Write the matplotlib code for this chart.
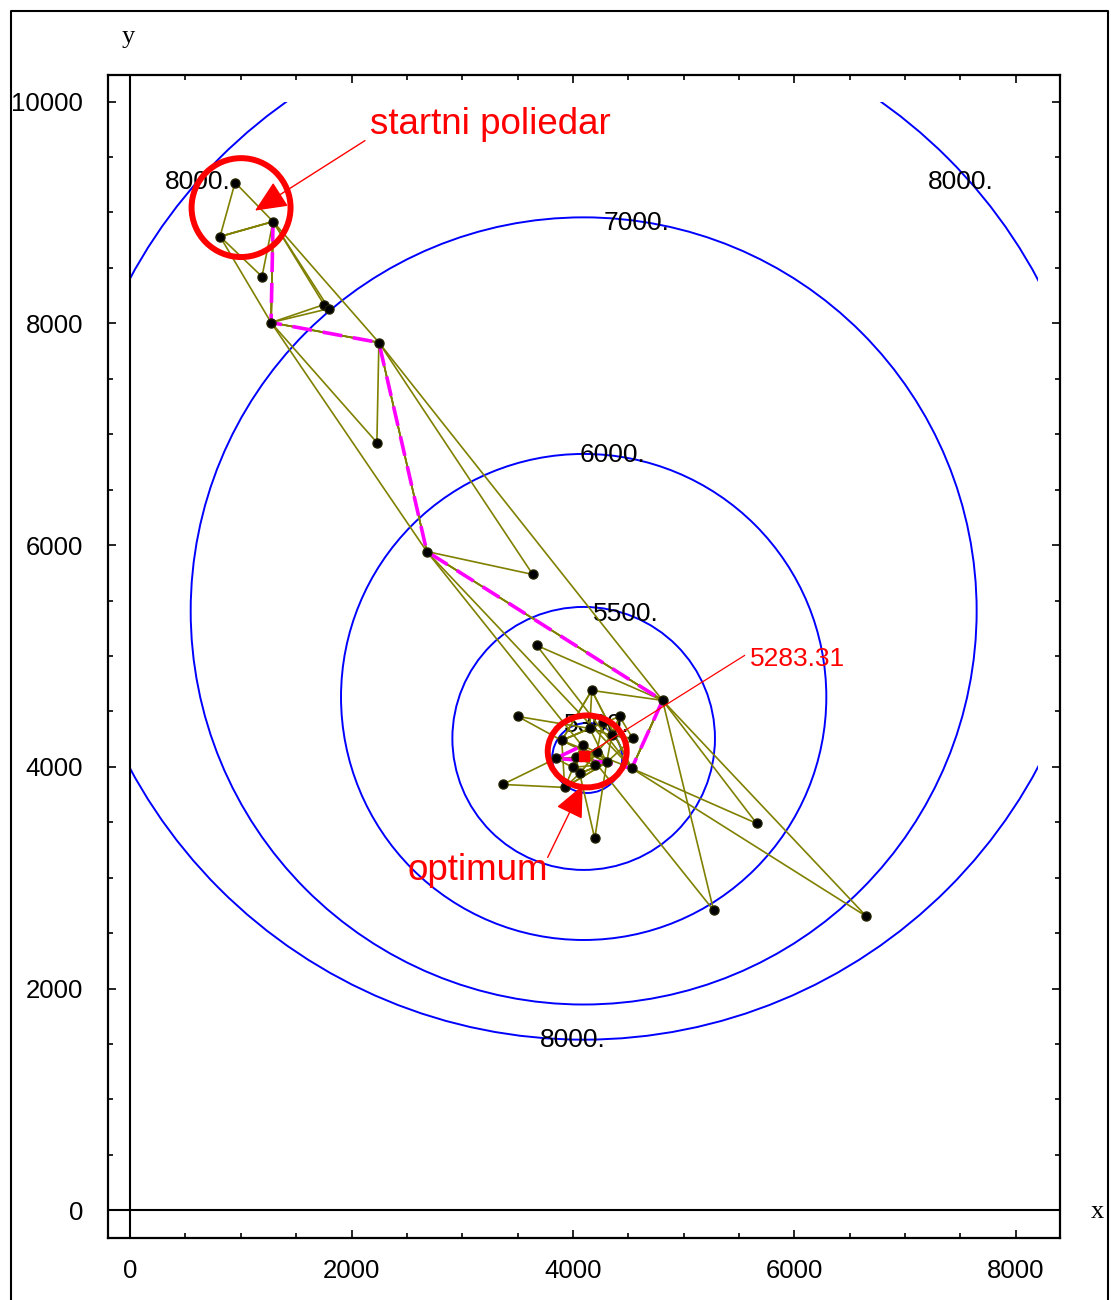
import matplotlib
matplotlib.use("Agg")
import matplotlib.pyplot as plt
from matplotlib.patches import Circle, Ellipse, Rectangle, FancyArrowPatch
from matplotlib.lines import Line2D
from matplotlib.ticker import MultipleLocator, FixedLocator

plt.rcParams['font.family'] = ['Liberation Sans', 'DejaVu Sans']

# ---------------- data ----------------
# contour circles (level, centre x, centre y, radius)
contour_levels = [5300, 5500, 6000, 7000, 8000]
contour_cx = [4129, 4097, 4097, 4097, 4097]
contour_cy = [4080, 4256, 4630, 5406, 6195]
contour_r = [316, 1186, 2192, 3550, 4656]
contour_domain_x = [0, 8200]
contour_domain_y = [0, 10000]

# contour labels
label_text = ["8000.", "8000.", "7000.", "6000.", "5500.", "5300.", "8000."]
label_x = [614, 7500, 4576, 4359, 4476, 4215, 3998]
label_y = [9279, 9279, 8909, 6808, 5374, 4373, 1533]

# simplex vertices (Nelder-Mead)
vert_names = ["A", "B", "C", "D", "R2a", "R2b", "E", "X", "R3", "Y", "R4", "Z",
              "P11", "P12", "P13", "P14", "P15", "P16", "P17", "P18", "P19", "P20",
              "K1", "K2", "K3", "K4", "K5", "K6", "K7", "K8", "K9", "K10", "K11",
              "K12", "K13", "K14", "OPT"]
vert_x = [948, 812, 1291, 1191, 1751, 1796, 1273, 2247, 2229, 2680, 3637, 4810,
          3673, 4170, 3502, 3366, 5659, 5271, 6651, 4197, 4540, 4531,
          4422, 3899, 4215, 3926, 4061, 4305, 3998, 4152, 4350, 4088, 4197,
          4025, 3845, 4269, 4097]
vert_y = [9270, 8783, 8918, 8422, 8169, 8133, 8007, 7827, 6925, 5942, 5735, 4599,
          5095, 4689, 4454, 3841, 3490, 2705, 2651, 3354, 4256, 3986,
          4454, 4238, 4130, 3814, 3940, 4040, 3995, 4346, 4283, 4193, 4013,
          4085, 4076, 4400, 4094]

# simplices drawn (triangles of vertex names)
simplices = [
    ("A", "B", "C"), ("B", "C", "D"), ("B", "C", "E"), ("C", "E", "R2a"),
    ("C", "E", "R2b"), ("C", "E", "X"), ("E", "X", "R3"), ("E", "X", "Y"),
    ("X", "Y", "R4"), ("X", "Y", "Z"), ("Y", "Z", "P16"), ("Y", "Z", "P20"),
    ("Z", "P20", "P17"), ("Z", "P20", "P15"), ("Z", "P20", "P11"),
    ("Z", "P20", "P12"), ("P20", "P12", "K2"), ("P12", "K2", "K8"),
    ("K2", "K8", "P13"), ("K8", "K2", "K6"), ("K2", "K6", "K4"),
    ("K5", "K6", "P18"), ("K10", "K4", "P14"), ("K4", "K6", "K5"),
    ("K5", "K6", "K3"), ("K3", "K5", "K12"), ("K12", "K3", "K10"),
    ("K10", "K12", "K11"), ("K8", "K9", "K1"), ("K9", "K1", "P19"),
    ("K6", "K9", "P19"), ("K3", "K9", "K14"), ("K12", "K7", "K13"),
    ("K11", "K7", "K10"),
]

# path of best vertices (magenta dashed)
best_path = ["C", "E", "X", "Y", "Z", "P20", "K6", "K13", "K10", "OPT"]

# annotations
start_circle = (1002, 9044, 894, 892)      # cx, cy, width, height
opt_circle = (4129, 4139, 713, 649)
start_text = ("startni poliedar", 2166, 9711)
start_arrow = ((2121, 9648), (1128, 9017))
opt_text = ("optimum", 2509, 2976)
opt_arrow = ((3772, 3183), (4088, 3832))
value_text = ("5283.31", 5596, 4905)
value_line = ((5550, 5004), (4097, 4094))

x_major = [0, 2000, 4000, 6000, 8000]
y_major = [0, 2000, 4000, 6000, 8000, 10000]

# ---------------- figure ----------------
W, H = 1111, 1300
fig = plt.figure(figsize=(W / 100, H / 100), dpi=100)
fig.patch.set_facecolor("white")
ax = fig.add_axes([108 / W, 1 - 1238 / H, (1060 - 108) / W, (1238 - 75) / H])
ax.set_xlim(-200, 8400)
ax.set_ylim(-250, 10240)

olive = "#808000"
blue = "#0000ff"
magenta = "#ff00ff"
red = "#ff0000"

# contours
clip_rect = Rectangle((contour_domain_x[0], contour_domain_y[0]),
                      contour_domain_x[1] - contour_domain_x[0],
                      contour_domain_y[1] - contour_domain_y[0],
                      transform=ax.transData, fill=False, visible=False)
ax.add_patch(clip_rect)
for lev, cx, cy, r in zip(contour_levels, contour_cx, contour_cy, contour_r):
    c = Circle((cx, cy), r, fill=False, edgecolor=blue, lw=1.4, zorder=1)
    ax.add_patch(c)
    c.set_clip_path(clip_rect)

for t, x, y in zip(label_text, label_x, label_y):
    ax.text(x, y, t, fontsize=19, color="black", ha="center", va="center", zorder=2)

# simplex edges
idx = {n: i for i, n in enumerate(vert_names)}
for tri in simplices:
    xs = [vert_x[idx[n]] for n in tri] + [vert_x[idx[tri[0]]]]
    ys = [vert_y[idx[n]] for n in tri] + [vert_y[idx[tri[0]]]]
    ax.plot(xs, ys, color=olive, lw=1.2, zorder=3, solid_joinstyle="round")

# best path
bx = [vert_x[idx[n]] for n in best_path]
by = [vert_y[idx[n]] for n in best_path]
ln, = ax.plot(bx, by, color=magenta, lw=2.6, zorder=4)
ln.set_dashes([5.5, 3.0])

# dots
dot_names = [n for n in vert_names if n != "OPT"]
ax.plot([vert_x[idx[n]] for n in dot_names], [vert_y[idx[n]] for n in dot_names],
        "o", color="black", markersize=6.5, markeredgecolor="#202000", zorder=5)
ax.plot([vert_x[idx["OPT"]]], [vert_y[idx["OPT"]]], "s", color=red, markersize=7, zorder=6)

# red annotations
ax.add_patch(Ellipse(start_circle[:2], start_circle[2], start_circle[3], fill=False,
                     edgecolor=red, lw=4.3, zorder=7))
ax.add_patch(Ellipse(opt_circle[:2], opt_circle[2], opt_circle[3], fill=False,
                     edgecolor=red, lw=4.3, zorder=7))
for (p0, p1) in (start_arrow, opt_arrow):
    ax.add_patch(FancyArrowPatch(p0, p1, arrowstyle="-|>,head_length=1.0,head_width=0.45",
                                 mutation_scale=20, color=red, lw=1.0,
                                 shrinkA=0, shrinkB=0, zorder=8))
ax.plot([value_line[0][0], value_line[1][0]], [value_line[0][1], value_line[1][1]],
        color=red, lw=0.9, zorder=8)
ax.text(start_text[1], start_text[2], start_text[0], fontsize=26.5, color=red,
        ha="left", va="baseline", zorder=9)
ax.text(opt_text[1], opt_text[2], opt_text[0], fontsize=26.5, color=red,
        ha="left", va="baseline", zorder=9)
ax.text(value_text[1], value_text[2], value_text[0], fontsize=19, color=red,
        ha="left", va="baseline", zorder=9)

# axes lines at zero
ax.axhline(0, color="black", lw=1.5, zorder=2)
ax.axvline(0, color="black", lw=1.5, zorder=2)

# ticks
ax.xaxis.set_major_locator(FixedLocator(x_major))
ax.yaxis.set_major_locator(FixedLocator(y_major))
ax.set_xticklabels([str(v) for v in x_major])
ax.set_yticklabels([str(v) for v in y_major])
ax.xaxis.set_minor_locator(MultipleLocator(500))
ax.yaxis.set_minor_locator(MultipleLocator(500))
ax.tick_params(which="both", direction="in", top=True, right=True,
               labeltop=False, labelright=False, width=1.2, colors="black")
ax.tick_params(which="major", length=6)
ax.tick_params(which="minor", length=3.5)
ax.tick_params(axis="x", which="major", pad=15, labelsize=18.5)
ax.tick_params(axis="y", which="major", pad=18, labelsize=18.5)
for s in ax.spines.values():
    s.set_linewidth(1.6)

fig.text(128 / W, 1 - 37 / H, "y", fontsize=19, family=["Liberation Serif", "DejaVu Serif"],
         ha="center", va="center")
fig.text(1097 / W, 1 - 1212 / H, "x", fontsize=19, family=["Liberation Serif", "DejaVu Serif"],
         ha="center", va="center")

# outer border
fig.add_artist(Line2D([10.5 / W, 10.5 / W, 1108 / W, 1108 / W],
                      [0, 1 - 10.5 / H, 1 - 10.5 / H, 0],
                      transform=fig.transFigure, color="black", lw=1.5))

fig.savefig("out.png", dpi=100, facecolor="white")
